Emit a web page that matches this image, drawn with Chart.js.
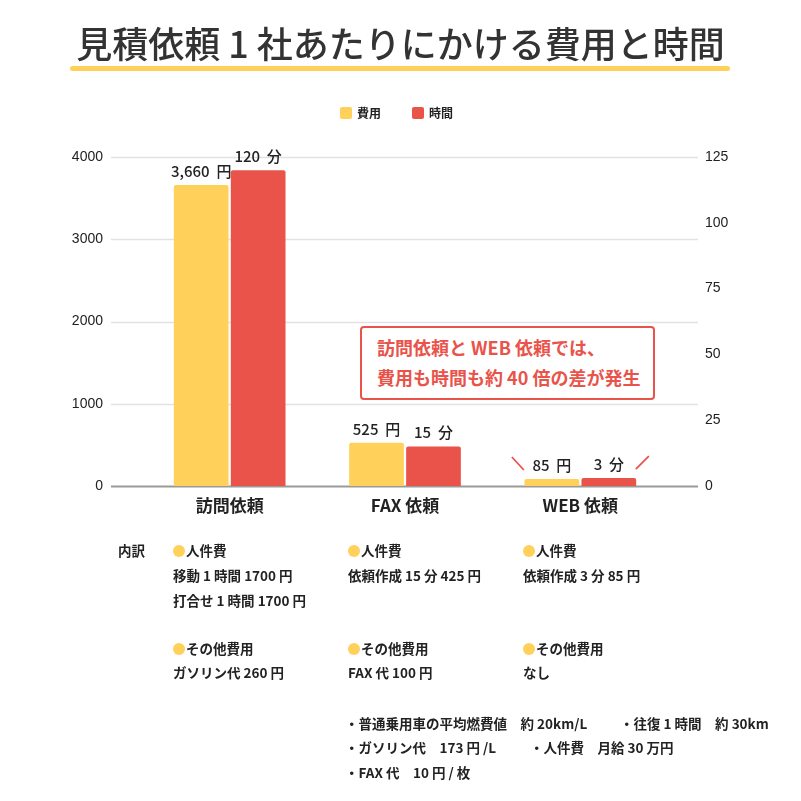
<!DOCTYPE html>
<html lang="ja">
<head>
<meta charset="utf-8">
<script src="https://cdn.jsdelivr.net/npm/chart.js@4"></script>
<style>
  html, body { margin: 0; padding: 0; background: #fff; }
  body { width: 801px; height: 801px; position: relative; overflow: hidden;
         font-family: "Noto Sans CJK JP", "Noto Sans", sans-serif; color: #222; }
  #chart { position: absolute; left: 0; top: 0; }
  .abs { position: absolute; white-space: pre; line-height: 1; }
  h1 { position: absolute; left: 0; width: 801px; top: 24px; margin: 0; text-align: center;
       font-size: 36px; font-weight: 500; color: #333; line-height: 1; }
  .underline { position: absolute; left: 70px; top: 66px; width: 660px; height: 5px;
               background: #FFD05A; border-radius: 3px; }
  .legend { font-size: 12px; font-weight: bold; }
  .sw { position: absolute; width: 12px; height: 12px; border-radius: 2px; }
  .callout { position: absolute; left: 360px; top: 326px; width: 291px; height: 70px;
             border: 2px solid #E9534A; border-radius: 4px; background: #fff; }
  .callout div { position: absolute; left: 15px; font-size: 18px; font-weight: bold; color: #E9534A; white-space: pre; line-height: 1; }
  .note { font-size: 13.5px; font-weight: bold; color: #222; }
  .dot { display: inline-block; width: 12px; height: 12px; border-radius: 50%; background: #FFD05A;
         vertical-align: -1px; margin-right: 1px; }
</style>
</head>
<body>
<canvas id="chart" width="801" height="801"></canvas>

<h1>見積依頼 1 社あたりにかける費用と時間</h1>
<div class="underline"></div>

<div class="sw" style="left:340px;top:107px;background:#FFD05A"></div>
<div class="abs legend" style="left:357px;top:107px">費用</div>
<div class="sw" style="left:412px;top:107px;background:#E9534A"></div>
<div class="abs legend" style="left:429px;top:107px">時間</div>

<div class="callout">
  <div style="top:10px">訪問依頼と WEB 依頼では、</div>
  <div style="top:40px">費用も時間も約 40 倍の差が発生</div>
</div>

<div id="notes"></div>

<script>
// data
const categories = ['訪問依頼', 'FAX 依頼', 'WEB 依頼'];
const costYen = [3660, 525, 85];
const timeMin = [120, 15, 3];
const costTicks = [0, 1000, 2000, 3000, 4000];
const timeTicks = [0, 25, 50, 75, 100, 125];

const YELLOW = '#FFD05A';
const RED = '#E9534A';

// breakdown text under the chart
const breakdown = [
  { x: 173, lines: [['●', '人件費'], '移動 1 時間 1700 円', '打合せ 1 時間 1700 円', null, ['●', 'その他費用'], 'ガソリン代 260 円'] },
  { x: 348, lines: [['●', '人件費'], '依頼作成 15 分 425 円', null, null, ['●', 'その他費用'], 'FAX 代 100 円'] },
  { x: 523, lines: [['●', '人件費'], '依頼作成 3 分 85 円', null, null, ['●', 'その他費用'], 'なし'] }
];
const rowY = [551, 576, 601, 625, 649, 673];
const footnotes = [
  [345, 724, '・普通乗用車の平均燃費値　約 20km/L'],
  [620, 724, '・往復 1 時間　約 30km'],
  [345, 748, '・ガソリン代　173 円 /L'],
  [530, 748, '・人件費　月給 30 万円'],
  [345, 773, '・FAX 代　10 円 / 枚']
];

const notes = document.getElementById('notes');
function addText(x, yc, html) {
  const d = document.createElement('div');
  d.className = 'abs note';
  d.style.left = x + 'px';
  d.style.top = (yc - 7) + 'px';
  d.innerHTML = html;
  notes.appendChild(d);
}
addText(118, 551, '内訳');
breakdown.forEach(col => {
  col.lines.forEach((ln, i) => {
    if (!ln) return;
    if (Array.isArray(ln)) addText(col.x, rowY[i], '<span class="dot"></span>' + ln[1]);
    else addText(col.x, rowY[i], ln);
  });
});
footnotes.forEach(f => addText(f[0], f[1], f[2]));

// wider grid lines + base line
const wideGrid = {
  id: 'wideGrid',
  beforeDatasetsDraw(chart) {
    const { ctx, chartArea } = chart;
    const y = chart.scales.y;
    ctx.save();
    costTicks.forEach(v => {
      const py = Math.round(y.getPixelForValue(v)) + 0.5;
      ctx.beginPath();
      ctx.strokeStyle = v === 0 ? '#9a9a9a' : '#e2e2e2';
      ctx.lineWidth = v === 0 ? 2 : 1.5;
      ctx.moveTo(chartArea.left - 31, py);
      ctx.lineTo(chartArea.right + 30, py);
      ctx.stroke();
    });
    ctx.restore();
  }
};

// value labels + the little marks around the WEB bars
const barLabels = {
  id: 'barLabels',
  afterDatasetsDraw(chart) {
    const { ctx } = chart;
    ctx.save();
    ctx.font = '500 15px "Noto Sans CJK JP", sans-serif';
    ctx.fillStyle = '#222';
    ctx.textAlign = 'center';
    ctx.textBaseline = 'middle';
    chart.data.datasets.forEach((ds, di) => {
      chart.getDatasetMeta(di).data.forEach((bar, i) => {
        const txt = di === 0 ? costYen[i].toLocaleString('en-US') + '  円' : timeMin[i] + '  分';
        ctx.fillText(txt, bar.x, bar.y - 14);
      });
    });
    const last = categories.length - 1;
    const b0 = chart.getDatasetMeta(0).data[last];
    const b1 = chart.getDatasetMeta(1).data[last];
    ctx.strokeStyle = RED;
    ctx.lineWidth = 1.8;
    ctx.beginPath();
    ctx.moveTo(b0.x - 40, b0.y - 22);
    ctx.lineTo(b0.x - 28, b0.y - 9);
    ctx.moveTo(b1.x + 27, b1.y - 9);
    ctx.lineTo(b1.x + 40, b1.y - 22);
    ctx.stroke();
    ctx.restore();
  }
};

const tickFont = { family: '"Liberation Sans", Arial, sans-serif', size: 14 };

new Chart(document.getElementById('chart'), {
  type: 'bar',
  data: {
    labels: categories,
    datasets: [
      { label: '費用', data: costYen, backgroundColor: YELLOW, yAxisID: 'y', borderRadius: 2, borderSkipped: 'bottom' },
      { label: '時間', data: timeMin, backgroundColor: RED, yAxisID: 'y1', borderRadius: 2, borderSkipped: 'bottom' }
    ]
  },
  options: {
    responsive: false,
    animation: false,
    events: [],
    categoryPercentage: 0.65,
    barPercentage: 0.96,
    layout: { padding: { top: 157, bottom: 275, left: 0, right: 0 } },
    plugins: { legend: { display: false }, tooltip: { enabled: false } },
    scales: {
      x: {
        grid: { display: false, drawTicks: false },
        border: { display: false },
        ticks: { padding: 9, color: '#222', font: { family: '"Noto Sans CJK JP"', size: 17, weight: 'bold' } },
        afterFit(s) { s.height = 40; }
      },
      y: {
        min: 0, max: 4000,
        afterBuildTicks(s) { s.ticks = costTicks.map(v => ({ value: v })); },
        grid: { display: false, drawTicks: false },
        border: { display: false },
        ticks: { padding: 39, color: '#222', font: tickFont, callback: v => String(v) },
        afterFit(s) { s.width = 142; }
      },
      y1: {
        position: 'right',
        min: 0, max: 125,
        afterBuildTicks(s) { s.ticks = timeTicks.map(v => ({ value: v })); },
        grid: { display: false, drawTicks: false },
        border: { display: false },
        ticks: { padding: 37, color: '#222', font: tickFont, callback: v => String(v) },
        afterFit(s) { s.width = 133; }
      }
    }
  },
  plugins: [wideGrid, barLabels]
});
</script>
</body>
</html>
